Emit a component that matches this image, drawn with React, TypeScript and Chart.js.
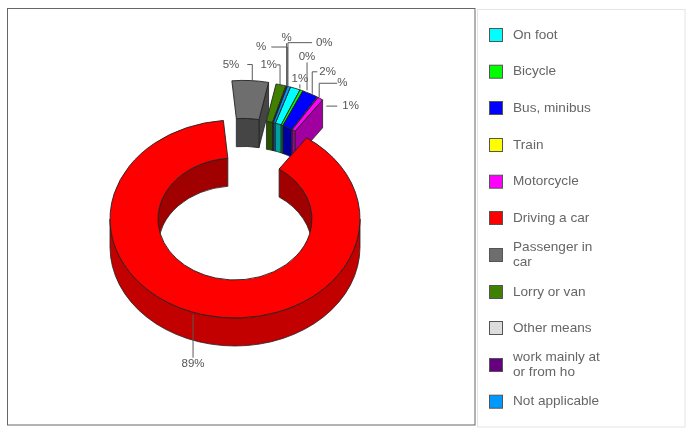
import React, { useEffect, useRef } from "react";
import { Chart, registerables } from "chart.js";

Chart.register(...registerables);

const categories = ["On foot", "Bicycle", "Bus, minibus", "Train", "Motorcycle", "Driving a car", "Passenger in car", "Lorry or van", "Other means", "work mainly at or from ho", "Not applicable"];
const legendLines = [["On foot"], ["Bicycle"], ["Bus, minibus"], ["Train"], ["Motorcycle"], ["Driving a car"], ["Passenger in", "car"], ["Lorry or van"], ["Other means"], ["work mainly at", "or from ho"], ["Not applicable"]];
const shares = [1.3, 0.4, 2.1, 0.1, 0.7, 88.9, 4.7, 1.3, 0.1, 0.1, 0.4];
const labelTexts = ["1%", "0%", "2%", "%", "1%", "89%", "5%", "1%", "%", "%", "0%"];
const colors = ["#00FFFF", "#00FF00", "#0000FF", "#FFFF00", "#FF00FF", "#FF0000", "#6E6E6E", "#408000", "#DDDDDD", "#660080", "#0099FF"];

// exploded shift of each slice, before the tilt
const explodeX = [16, 16, 16, 16, 16, 0, 8.5, 16, 16, 16, 16];
const explodeY = [-48, -48, -48, -48, -48, 0, -50, -48, -48, -48, -48];
// leader lines: anchor shift, rise, run, gap to text
const leaders = [
  { dx: 4.6, dy: 0, rise: 4, run: 0, gap: 6 },
  { dx: 5.6, dy: 0, rise: 28, run: 0, gap: 6 },
  { dx: 2, dy: 0, rise: 22, run: 5, gap: 2 },
  { dx: 1.5, dy: 0, rise: 14, run: 18, gap: 0 },
  { dx: 6, dy: 7.5, rise: 0, run: 11, gap: 5 },
  { dx: -10, dy: 0, rise: -43, run: 0, gap: 6 },
  { dx: 2, dy: 0, rise: 16, run: -5, gap: 8 },
  { dx: -1, dy: 0, rise: 20, run: -3, gap: 0 },
  { dx: 1, dy: 0, rise: 39, run: -16, gap: 5 },
  { dx: -0.5, dy: 0, rise: 43, run: 0, gap: 5 },
  { dx: -1, dy: 0, rise: 44, run: 24, gap: 4 },
];

const TILT = 0.792;
const DEPTH = 28;
const FONT = '"Liberation Sans", Arial, sans-serif';
const legendRowY = [35, 71.7, 108, 145, 181.7, 218, 255, 292, 328, 365, 401.7];

function shade(hex: string, f: number) {
  const n = parseInt(hex.slice(1), 16);
  const c = (v: number) => Math.round(v * f);
  return `rgb(${c((n >> 16) & 255)},${c((n >> 8) & 255)},${c(n & 255)})`;
}

function ranges(s: number, e: number, a: number, b: number) {
  const out: [number, number][] = [];
  for (let k = -2; k <= 2; k++) {
    const lo = Math.max(s, a + k * 2 * Math.PI);
    const hi = Math.min(e, b + k * 2 * Math.PI);
    if (hi > lo) out.push([lo, hi]);
  }
  return out;
}

const donut3d = {
  id: "donut3d",
  afterDatasetsUpdate(chart: any) {
    const arcs = chart.getDatasetMeta(0).data;
    arcs.forEach((el: any, i: number) => {
      el.baseX = el.x;
      el.baseY = el.y;
      el.x = el.x + explodeX[i];
      el.y = el.y + explodeY[i];
    });
  },
  beforeDraw(chart: any) {
    const ctx = chart.ctx;
    ctx.save();
    ctx.fillStyle = "#fff";
    ctx.fillRect(0, 0, chart.width, chart.height);
    ctx.strokeStyle = "#666";
    ctx.lineWidth = 1;
    ctx.strokeRect(7.5, 8.5, 467.5, 416.5);
    ctx.strokeStyle = "#E4E4E4";
    ctx.strokeRect(477.5, 9.5, 207.5, 417.5);
    ctx.restore();
  },
  beforeDatasetsDraw(chart: any) {
    const ctx = chart.ctx;
    const arcs = chart.getDatasetMeta(0).data;
    const cy = arcs[0].baseY;
    const wall = (X: number, Y: number, r: number, a: number, b: number, fill: string) => {
      ctx.beginPath();
      ctx.ellipse(X, Y, r, r * TILT, 0, a, b);
      ctx.ellipse(X, Y + DEPTH, r, r * TILT, 0, b, a, true);
      ctx.closePath();
      ctx.fillStyle = fill;
      ctx.fill();
      ctx.stroke();
    };
    const cap = (X: number, Y: number, r0: number, r1: number, a: number, fill: string) => {
      const px = (r: number) => X + r * Math.cos(a);
      const py = (r: number) => Y + r * TILT * Math.sin(a);
      ctx.beginPath();
      ctx.moveTo(px(r0), py(r0));
      ctx.lineTo(px(r1), py(r1));
      ctx.lineTo(px(r1), py(r1) + DEPTH);
      ctx.lineTo(px(r0), py(r0) + DEPTH);
      ctx.closePath();
      ctx.fillStyle = fill;
      ctx.fill();
      ctx.stroke();
    };
    ctx.save();
    ctx.strokeStyle = "#222";
    ctx.lineWidth = 0.8;
    const order = arcs.map((_: any, i: number) => i).sort((p: number, q: number) => {
      const big = (i: number) => (shares[i] > 50 ? 1e3 : 0);
      const ang = (i: number) => {
        const m = (arcs[i].startAngle + Math.PI / 2) % (2 * Math.PI);
        return m > Math.PI ? m - 2 * Math.PI : m;
      };
      return big(p) + ang(p) - big(q) - ang(q);
    });
    order.forEach((i: number) => {
      const el = arcs[i];
      const X = el.x;
      const Y = cy + (el.y - cy) * TILT;
      const s = el.startAngle;
      const e = el.endAngle;
      const col = colors[i];
      ranges(s, e, 0, Math.PI).forEach(([a, b]) => wall(X, Y, el.outerRadius, a, b, shade(col, 0.76)));
      if (Math.cos(e) > 0) cap(X, Y, el.innerRadius, el.outerRadius, e, shade(col, 0.63));
      ranges(s, e, Math.PI, 2 * Math.PI).forEach(([a, b]) => wall(X, Y, el.innerRadius, a, b, shade(col, 0.63)));
    });
    ctx.restore();
    ctx.save();
    ctx.translate(0, cy);
    ctx.scale(1, TILT);
    ctx.translate(0, -cy);
  },
  afterDatasetsDraw(chart: any) {
    const ctx = chart.ctx;
    ctx.restore();
    const arcs = chart.getDatasetMeta(0).data;
    const cy = arcs[0].baseY;
    ctx.save();
    ctx.strokeStyle = "#5a5a5a";
    ctx.fillStyle = "#555";
    ctx.lineWidth = 1;
    ctx.font = `11.5px ${FONT}`;
    ctx.textBaseline = "middle";
    arcs.forEach((el: any, i: number) => {
      const m = (el.startAngle + el.endAngle) / 2;
      const Y = cy + (el.y - cy) * TILT;
      const L = leaders[i];
      const ax = el.x + el.outerRadius * Math.cos(m) + L.dx;
      const ay = Y + el.outerRadius * TILT * Math.sin(m) + L.dy;
      const ex = ax;
      const ey = ay - L.rise;
      const tx = ex + L.run;
      ctx.beginPath();
      ctx.moveTo(ax, ay);
      ctx.lineTo(ex, ey);
      ctx.lineTo(tx, ey);
      ctx.stroke();
      if (L.run > 0) {
        ctx.textAlign = "left";
        ctx.fillText(labelTexts[i], tx + L.gap, ey);
      } else if (L.run < 0) {
        ctx.textAlign = "right";
        ctx.fillText(labelTexts[i], tx - L.gap, ey);
      } else {
        ctx.textAlign = "center";
        ctx.fillText(labelTexts[i], tx, ey + (L.rise < 0 ? L.gap : -L.gap));
      }
    });
    ctx.restore();
  },
  afterDraw(chart: any) {
    const ctx = chart.ctx;
    ctx.save();
    ctx.textBaseline = "middle";
    ctx.textAlign = "left";
    ctx.font = `13.6px ${FONT}`;
    legendLines.forEach((lines, i) => {
      const y = legendRowY[i];
      ctx.fillStyle = colors[i];
      ctx.fillRect(489.5, y - 6.5, 13, 13);
      ctx.strokeStyle = "#555";
      ctx.lineWidth = 1;
      ctx.strokeRect(489.5, y - 6.5, 13, 13);
      ctx.fillStyle = "#666";
      lines.forEach((t, j) => {
        ctx.fillText(t, 513, y + (j - (lines.length - 1) / 2) * 15.3);
      });
    });
    ctx.restore();
  },
};

export default function App() {
  const ref = useRef<HTMLCanvasElement>(null);
  useEffect(() => {
    const chart = new Chart(ref.current!, {
      type: "doughnut",
      data: {
        labels: categories,
        datasets: [
          {
            data: shares,
            backgroundColor: colors,
            borderColor: "#222",
            borderWidth: 1,
            clip: false,
          } as any,
        ],
      },
      options: {
        responsive: false,
        animation: false,
        rotation: 18.4,
        cutout: "61.6%",
        layout: { padding: { left: 109.5, right: 326.5, top: 93.5, bottom: 93.5 } },
        plugins: { legend: { display: false }, tooltip: { enabled: false } },
      },
      plugins: [donut3d],
    } as any);
    return () => chart.destroy();
  }, []);
  return (
    <canvas
      ref={ref}
      width={687}
      height={438}
      style={{ position: "fixed", left: 0, top: 0, width: 687, height: 438, filter: "blur(0.45px)" }}
    />
  );
}
